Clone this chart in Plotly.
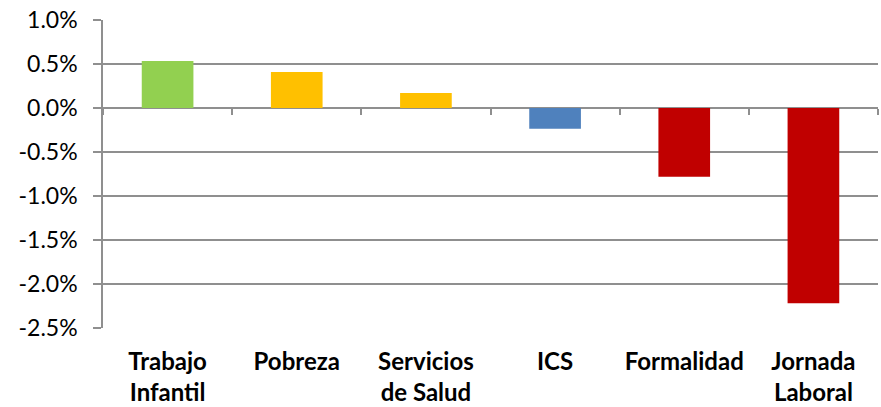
import plotly.graph_objects as go

categories = ["Trabajo<br>Infantil", "Pobreza", "Servicios<br>de Salud", "ICS", "Formalidad", "Jornada<br>Laboral"]
values = [0.535, 0.41, 0.17, -0.235, -0.78, -2.22]
bar_colors = ["#92D050", "#FFC000", "#FFC000", "#4F81BD", "#C00000", "#C00000"]
y_tick_vals = [1.0, 0.5, 0.0, -0.5, -1.0, -1.5, -2.0, -2.5]
y_tick_text = ["1.0%", "0.5%", "0.0%", "-0.5%", "-1.0%", "-1.5%", "-2.0%", "-2.5%"]

y_min, y_max = -2.5, 1.0
zero_pos = (0 - y_min) / (y_max - y_min)
grid = "#8f8f8f"

fig = go.Figure()
fig.add_trace(go.Bar(x=categories, y=values, marker=dict(color=bar_colors, line=dict(width=0)),
                     width=0.4, xaxis="x", yaxis="y", hoverinfo="skip"))
# helper trace to drive the boundary tick marks on the zero line
fig.add_trace(go.Bar(x=categories, y=values, opacity=0, xaxis="x2", yaxis="y",
                     hoverinfo="skip", showlegend=False))

fig.update_layout(
    width=881, height=407,
    margin=dict(l=103, r=3, t=20, b=79, autoexpand=False),
    paper_bgcolor="white", plot_bgcolor="white",
    showlegend=False, barmode="overlay",
    font=dict(family="Lato, Liberation Sans", size=19, color="black"),
    xaxis=dict(type="category", showline=False, ticks="", showgrid=False, automargin=False,
               tickfont=dict(family="Lato, Liberation Sans", size=24, weight="bold"),
               ticklabelstandoff=17, range=[-0.5, 5.5], fixedrange=True),
    xaxis2=dict(type="category", overlaying="x", anchor="free", position=zero_pos,
                side="bottom", showticklabels=False, ticks="outside", tickson="boundaries",
                ticklen=6, tickwidth=1.5, tickcolor=grid, showline=False, showgrid=False,
                automargin=False, range=[-0.5, 5.5], fixedrange=True),
    yaxis=dict(range=[y_min, y_max], tickvals=y_tick_vals, ticktext=y_tick_text,
               tickfont=dict(family="Lato, Liberation Sans", size=23),
               showgrid=True, gridcolor=grid, gridwidth=1.5, automargin=False,
               zeroline=True, zerolinecolor=grid, zerolinewidth=1.5,
               showline=True, linecolor=grid, linewidth=1.5,
               ticks="outside", ticklen=8, tickwidth=1.5, tickcolor=grid,
               ticklabelstandoff=11, fixedrange=True),
)

fig.write_html("out.html", config={"displayModeBar": False},
               post_script="document.body.style.margin='0';document.body.style.overflow='hidden';")
